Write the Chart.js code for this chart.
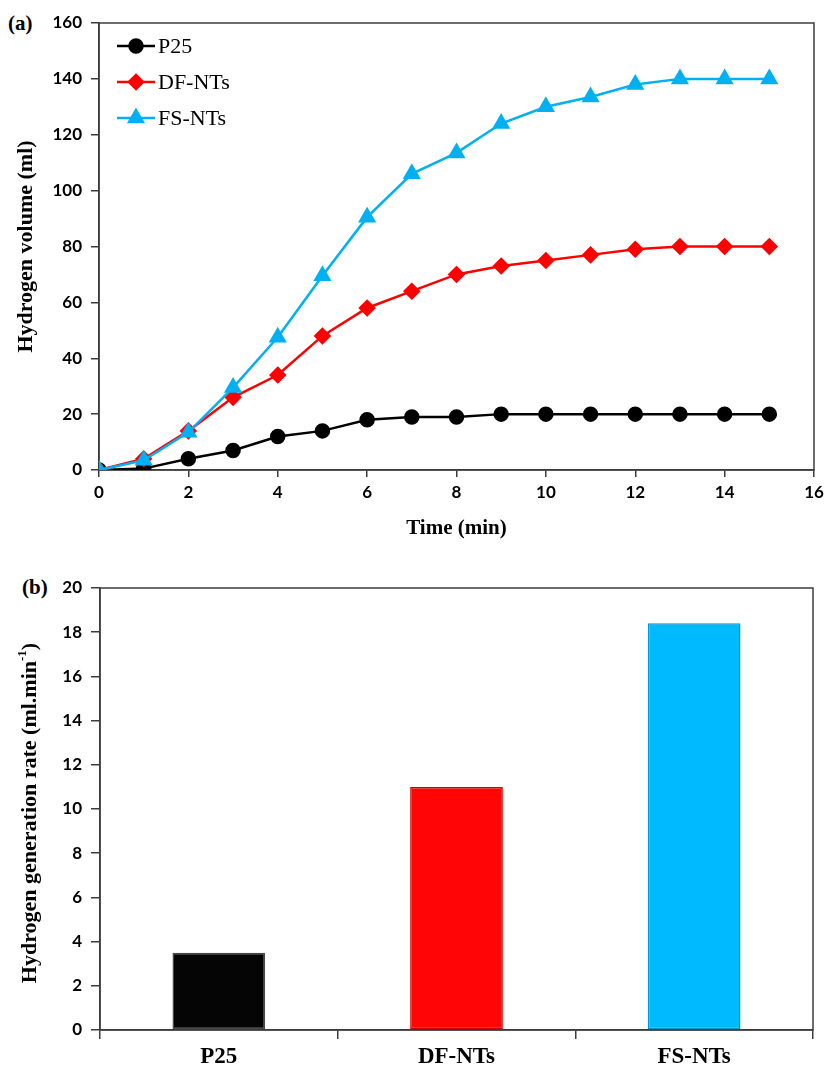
<!DOCTYPE html>
<html>
<head>
<meta charset="utf-8">
<title>Hydrogen volume and generation rate</title>
<script src="https://cdn.jsdelivr.net/npm/chart.js@4.4.1/dist/chart.umd.min.js"></script>
<style>
  html, body { margin: 0; padding: 0; background: #fff; }
  body { width: 826px; height: 1068px; position: relative; overflow: hidden; }
  .panel-label { position: absolute; font: bold 21px 'Liberation Serif', 'Times New Roman', serif; color: #000; line-height: 1; }
  #volumeChart { position: absolute; left: 0; top: 0; }
  #rateChart { position: absolute; left: 0; top: 570px; }
</style>
</head>
<body>
<div class="panel-label" style="left:8px; top:13px;">(a)</div>
<div class="panel-label" style="left:22px; top:577px;">(b)</div>
<canvas id="volumeChart" width="826" height="545"></canvas>
<canvas id="rateChart" width="826" height="498"></canvas>

<script>
// (a) hydrogen volume vs time
const timeMin = [0, 1, 2, 3, 4, 5, 6, 7, 8, 9, 10, 11, 12, 13, 14, 15];
const p25Volume = [0, 0.5, 4, 7, 12, 14, 18, 19, 19, 20, 20, 20, 20, 20, 20, 20];
const dfNtsVolume = [0, 4, 14, 26, 34, 48, 58, 64, 70, 73, 75, 77, 79, 80, 80, 80];
const fsNtsVolume = [0, 3.5, 13.5, 29.5, 47.5, 69.5, 90.5, 106, 113.5, 124, 130, 133.5, 138, 140, 140, 140];
const timeTicks = [0, 2, 4, 6, 8, 10, 12, 14, 16];
const volumeTicks = [0, 20, 40, 60, 80, 100, 120, 140, 160];

// (b) generation rate per catalyst
const catalysts = ['P25', 'DF-NTs', 'FS-NTs'];
const generationRate = [3.5, 11, 18.4];
const rateTicks = [0, 2, 4, 6, 8, 10, 12, 14, 16, 18, 20];

const serif = "'Liberation Serif', 'Times New Roman', serif";
const sans = "Lato, 'Open Sans', sans-serif";
const axisColor = '#3c3c3c';

const toPoints = ys => timeMin.map((t, i) => ({ x: t, y: ys[i] }));
const fixedTicks = list => axis => { axis.ticks = list.map(value => ({ value })); };

// box around the plot area
const frame = {
  id: 'frame',
  beforeDatasetsDraw(chart) {
    const { ctx, chartArea: a } = chart;
    ctx.save();
    ctx.strokeStyle = axisColor;
    ctx.lineWidth = 1.5;
    ctx.strokeRect(a.left, a.top, a.right - a.left, a.bottom - a.top);
    ctx.restore();
  }
};

// legend drawn inside the plot, line + marker like the original
const insetLegend = {
  id: 'insetLegend',
  afterDraw(chart) {
    const { ctx, chartArea: a } = chart;
    chart.data.datasets.forEach((ds, i) => {
      const y = a.top + 23 + i * 36;
      const x0 = a.left + 18;
      ctx.save();
      ctx.strokeStyle = ds.borderColor;
      ctx.lineWidth = ds.borderWidth;
      ctx.beginPath();
      ctx.moveTo(x0, y);
      ctx.lineTo(x0 + 38, y);
      ctx.stroke();
      ctx.fillStyle = ds.pointBackgroundColor;
      ctx.strokeStyle = ds.pointBorderColor;
      Chart.helpers.drawPoint(ctx, { pointStyle: ds.pointStyle, radius: ds.pointRadius, borderWidth: 1, rotation: 0 }, x0 + 19, y);
      ctx.fillStyle = '#000';
      ctx.font = '22px ' + serif;
      ctx.textBaseline = 'middle';
      ctx.fillText(ds.label, x0 + 41, y + 1);
      ctx.restore();
    });
  }
};

// y title of (b) with a superscript -1
const rateTitle = {
  id: 'rateTitle',
  afterDraw(chart) {
    const { ctx, chartArea: a } = chart;
    const main = 'Hydrogen generation rate (ml.min';
    const sup = '-1';
    const tail = ')';
    ctx.save();
    ctx.fillStyle = '#000';
    ctx.font = 'bold 22px ' + serif;
    const wMain = ctx.measureText(main).width;
    const wTail = ctx.measureText(tail).width;
    ctx.font = 'bold 13px ' + serif;
    const wSup = ctx.measureText(sup).width;
    ctx.translate(30, (a.top + a.bottom) / 2 + 4);
    ctx.rotate(-Math.PI / 2);
    ctx.textBaseline = 'middle';
    let x = -(wMain + wSup + wTail) / 2;
    ctx.font = 'bold 22px ' + serif;
    ctx.fillText(main, x, 0);
    x += wMain;
    ctx.font = 'bold 13px ' + serif;
    ctx.fillText(sup, x, -7);
    x += wSup;
    ctx.font = 'bold 22px ' + serif;
    ctx.fillText(tail, x, 0);
    ctx.restore();
  }
};

const tickFont = { family: sans, size: 17, weight: 'bold' };

// keep the plot area fixed: no extra room for half tick labels
const fitX = h => axis => { axis.height = h; axis.paddingLeft = 0; axis.paddingRight = 0; };
const fitY = w => axis => { axis.width = w; axis.paddingTop = 0; axis.paddingBottom = 0; };

new Chart(document.getElementById('volumeChart'), {
  type: 'line',
  data: {
    datasets: [
      {
        label: 'P25',
        data: toPoints(p25Volume),
        borderColor: '#000000',
        backgroundColor: '#000000',
        pointBackgroundColor: '#000000',
        pointBorderColor: '#000000',
        pointStyle: 'circle',
        pointRadius: 6.5,
        borderWidth: 2.5,
        order: 2
      },
      {
        label: 'DF-NTs',
        data: toPoints(dfNtsVolume),
        borderColor: '#FF0000',
        backgroundColor: '#FF0000',
        pointBackgroundColor: '#FF0000',
        pointBorderColor: '#FF0000',
        pointStyle: 'rectRot',
        pointRadius: 7,
        borderWidth: 2.5,
        order: 1
      },
      {
        label: 'FS-NTs',
        data: toPoints(fsNtsVolume),
        borderColor: '#00B0F0',
        backgroundColor: '#00B0F0',
        pointBackgroundColor: '#00B0F0',
        pointBorderColor: '#00B0F0',
        pointStyle: 'triangle',
        pointRadius: 8,
        borderWidth: 2.5,
        order: 0
      }
    ]
  },
  options: {
    responsive: false,
    animation: false,
    layout: { padding: { top: 23, right: 12, left: 0, bottom: 0 } },
    plugins: { legend: { display: false }, tooltip: { enabled: false } },
    scales: {
      x: {
        type: 'linear',
        min: 0,
        max: 16,
        afterBuildTicks: fixedTicks(timeTicks),
        afterFit: fitX(75),
        grid: { drawOnChartArea: false, tickLength: 7, tickColor: axisColor, lineWidth: 1.5 },
        border: { color: axisColor, width: 1.5 },
        ticks: { color: '#000', font: tickFont, padding: 5, maxRotation: 0 },
        title: {
          display: true,
          text: 'Time (min)',
          color: '#000',
          font: { family: serif, size: 21, weight: 'bold' },
          padding: { top: 0, bottom: 4 }
        }
      },
      y: {
        min: 0,
        max: 160,
        afterBuildTicks: fixedTicks(volumeTicks),
        afterFit: fitY(99),
        grid: { drawOnChartArea: false, tickLength: 8, tickColor: axisColor, lineWidth: 1.5 },
        border: { color: axisColor, width: 1.5 },
        ticks: { color: '#000', font: tickFont, padding: 9 },
        title: {
          display: true,
          text: 'Hydrogen volume (ml)',
          color: '#000',
          font: { family: serif, size: 22, weight: 'bold' },
          padding: { top: 13, bottom: 0 }
        }
      }
    }
  },
  plugins: [frame, insetLegend]
});

new Chart(document.getElementById('rateChart'), {
  type: 'bar',
  data: {
    labels: catalysts,
    datasets: [{
      label: 'Hydrogen generation rate',
      data: generationRate,
      backgroundColor: ['#050505', '#FF0505', '#00BAFF'],
      borderColor: ['#4a4a4a', '#D00000', '#0098D0'],
      borderWidth: 1.5,
      borderSkipped: false,
      categoryPercentage: 1,
      barPercentage: 0.39
    }]
  },
  options: {
    responsive: false,
    animation: false,
    layout: { padding: { top: 18, right: 13, left: 0, bottom: 0 } },
    plugins: { legend: { display: false }, tooltip: { enabled: false } },
    scales: {
      x: {
        offset: true,
        afterFit: fitX(38),
        grid: { offset: true, drawOnChartArea: false, tickLength: 9, tickColor: axisColor, lineWidth: 1.5 },
        border: { color: axisColor, width: 1.5 },
        ticks: { color: '#000', font: { family: serif, size: 23, weight: 'bold' }, padding: 4 }
      },
      y: {
        min: 0,
        max: 20,
        afterBuildTicks: fixedTicks(rateTicks),
        afterFit: fitY(100),
        grid: { drawOnChartArea: false, tickLength: 9, tickColor: axisColor, lineWidth: 1.5 },
        border: { color: axisColor, width: 1.5 },
        ticks: { color: '#000', font: tickFont, padding: 9 }
      }
    }
  },
  plugins: [frame, rateTitle]
});
</script>
</body>
</html>
